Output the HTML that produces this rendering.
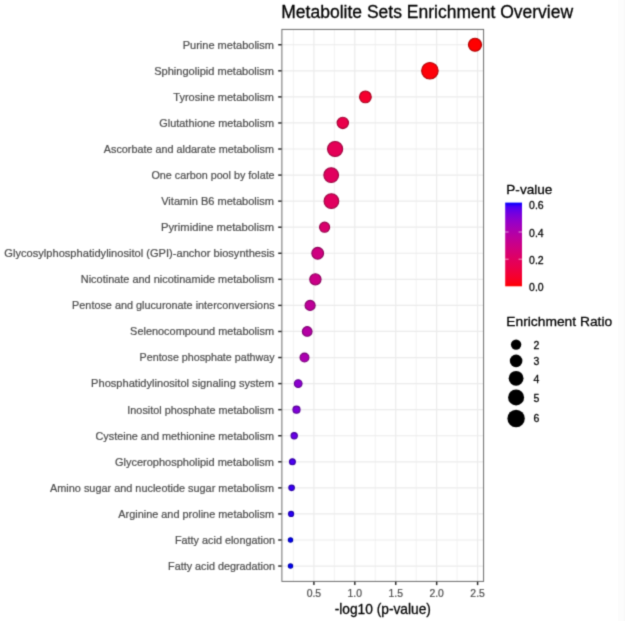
<!DOCTYPE html><html><head><meta charset="utf-8"><style>html,body{margin:0;padding:0;background:#fff}svg{display:block}text{font-family:"Liberation Sans",sans-serif;stroke-linejoin:round}.k{fill:#000;stroke:#000;stroke-width:.28}.g{fill:#4d4d4d;stroke:#4d4d4d;stroke-width:.22}</style></head><body>
<svg width="625" height="621" viewBox="0 0 625 621">
<defs><filter id="bl" x="0" y="0" width="625" height="621" filterUnits="userSpaceOnUse" color-interpolation-filters="sRGB"><feConvolveMatrix order="3" kernelMatrix="0.0256 0.1088 0.0256 0.1088 0.4624 0.1088 0.0256 0.1088 0.0256" divisor="1" edgeMode="duplicate" preserveAlpha="false"/></filter></defs>
<g filter="url(#bl)">
<rect width="625" height="621" fill="#ffffff"/>
<rect x="618" y="0" width="7" height="621" fill="#fcfcfc"/><rect x="624" y="0" width="1" height="621" fill="#f8f8f8"/>
<line x1="293.44" x2="293.44" y1="29.40" y2="581.40" stroke="#ebebeb" stroke-width="0.6"/>
<line x1="313.90" x2="313.90" y1="29.40" y2="581.40" stroke="#ebebeb" stroke-width="1.2"/>
<line x1="334.36" x2="334.36" y1="29.40" y2="581.40" stroke="#ebebeb" stroke-width="0.6"/>
<line x1="354.82" x2="354.82" y1="29.40" y2="581.40" stroke="#ebebeb" stroke-width="1.2"/>
<line x1="375.29" x2="375.29" y1="29.40" y2="581.40" stroke="#ebebeb" stroke-width="0.6"/>
<line x1="395.75" x2="395.75" y1="29.40" y2="581.40" stroke="#ebebeb" stroke-width="1.2"/>
<line x1="416.21" x2="416.21" y1="29.40" y2="581.40" stroke="#ebebeb" stroke-width="0.6"/>
<line x1="436.67" x2="436.67" y1="29.40" y2="581.40" stroke="#ebebeb" stroke-width="1.2"/>
<line x1="457.14" x2="457.14" y1="29.40" y2="581.40" stroke="#ebebeb" stroke-width="0.6"/>
<line x1="477.60" x2="477.60" y1="29.40" y2="581.40" stroke="#ebebeb" stroke-width="1.2"/>
<line x1="281.90" x2="483.60" y1="44.75" y2="44.75" stroke="#ebebeb" stroke-width="1.2"/>
<line x1="281.90" x2="483.60" y1="70.81" y2="70.81" stroke="#ebebeb" stroke-width="1.2"/>
<line x1="281.90" x2="483.60" y1="96.88" y2="96.88" stroke="#ebebeb" stroke-width="1.2"/>
<line x1="281.90" x2="483.60" y1="122.95" y2="122.95" stroke="#ebebeb" stroke-width="1.2"/>
<line x1="281.90" x2="483.60" y1="149.01" y2="149.01" stroke="#ebebeb" stroke-width="1.2"/>
<line x1="281.90" x2="483.60" y1="175.08" y2="175.08" stroke="#ebebeb" stroke-width="1.2"/>
<line x1="281.90" x2="483.60" y1="201.14" y2="201.14" stroke="#ebebeb" stroke-width="1.2"/>
<line x1="281.90" x2="483.60" y1="227.21" y2="227.21" stroke="#ebebeb" stroke-width="1.2"/>
<line x1="281.90" x2="483.60" y1="253.27" y2="253.27" stroke="#ebebeb" stroke-width="1.2"/>
<line x1="281.90" x2="483.60" y1="279.34" y2="279.34" stroke="#ebebeb" stroke-width="1.2"/>
<line x1="281.90" x2="483.60" y1="305.40" y2="305.40" stroke="#ebebeb" stroke-width="1.2"/>
<line x1="281.90" x2="483.60" y1="331.47" y2="331.47" stroke="#ebebeb" stroke-width="1.2"/>
<line x1="281.90" x2="483.60" y1="357.53" y2="357.53" stroke="#ebebeb" stroke-width="1.2"/>
<line x1="281.90" x2="483.60" y1="383.60" y2="383.60" stroke="#ebebeb" stroke-width="1.2"/>
<line x1="281.90" x2="483.60" y1="409.66" y2="409.66" stroke="#ebebeb" stroke-width="1.2"/>
<line x1="281.90" x2="483.60" y1="435.73" y2="435.73" stroke="#ebebeb" stroke-width="1.2"/>
<line x1="281.90" x2="483.60" y1="461.79" y2="461.79" stroke="#ebebeb" stroke-width="1.2"/>
<line x1="281.90" x2="483.60" y1="487.86" y2="487.86" stroke="#ebebeb" stroke-width="1.2"/>
<line x1="281.90" x2="483.60" y1="513.92" y2="513.92" stroke="#ebebeb" stroke-width="1.2"/>
<line x1="281.90" x2="483.60" y1="539.99" y2="539.99" stroke="#ebebeb" stroke-width="1.2"/>
<line x1="281.90" x2="483.60" y1="566.05" y2="566.05" stroke="#ebebeb" stroke-width="1.2"/>
<circle cx="475.0" cy="44.75" r="6.55" fill="#ff0000" stroke="#ad0000" stroke-width="1.1"/>
<circle cx="429.9" cy="70.81" r="8.25" fill="#fe0009" stroke="#ac0006" stroke-width="1.1"/>
<circle cx="365.4" cy="96.88" r="5.85" fill="#f5002f" stroke="#a6001f" stroke-width="1.1"/>
<circle cx="342.8" cy="122.95" r="5.65" fill="#ea004a" stroke="#9f0032" stroke-width="1.1"/>
<circle cx="335.1" cy="149.01" r="7.55" fill="#e50057" stroke="#9b003b" stroke-width="1.1"/>
<circle cx="331.2" cy="175.08" r="7.35" fill="#e1005e" stroke="#99003f" stroke-width="1.1"/>
<circle cx="331.4" cy="201.14" r="7.35" fill="#e1005e" stroke="#99003f" stroke-width="1.1"/>
<circle cx="324.6" cy="227.21" r="5.05" fill="#d9006d" stroke="#93004a" stroke-width="1.1"/>
<circle cx="317.7" cy="253.27" r="5.85" fill="#cf0080" stroke="#8c0057" stroke-width="1.1"/>
<circle cx="315.4" cy="279.34" r="5.65" fill="#ca0087" stroke="#89005b" stroke-width="1.1"/>
<circle cx="310.1" cy="305.40" r="5.05" fill="#be0099" stroke="#810068" stroke-width="1.1"/>
<circle cx="307.2" cy="331.47" r="4.85" fill="#b500a5" stroke="#7b0070" stroke-width="1.1"/>
<circle cx="304.5" cy="357.53" r="4.45" fill="#ac00b0" stroke="#740077" stroke-width="1.1"/>
<circle cx="298.2" cy="383.60" r="3.85" fill="#8b00cf" stroke="#5e008c" stroke-width="1.1"/>
<circle cx="296.5" cy="409.66" r="3.55" fill="#7f00d9" stroke="#560093" stroke-width="1.1"/>
<circle cx="294.2" cy="435.73" r="3.15" fill="#6800e7" stroke="#46009d" stroke-width="1.1"/>
<circle cx="292.4" cy="461.79" r="2.95" fill="#4d00f2" stroke="#3400a4" stroke-width="1.1"/>
<circle cx="291.6" cy="487.86" r="2.75" fill="#3b00f7" stroke="#2800a7" stroke-width="1.1"/>
<circle cx="291.1" cy="513.92" r="2.55" fill="#2b00fb" stroke="#1d00aa" stroke-width="1.1"/>
<circle cx="290.5" cy="539.99" r="2.15" fill="#0000ff" stroke="#0000ad" stroke-width="1.1"/>
<circle cx="290.5" cy="566.05" r="2.15" fill="#0000ff" stroke="#0000ad" stroke-width="1.1"/>
<rect x="281.90" y="29.40" width="201.70" height="552.00" fill="none" stroke="#666666" stroke-width="0.95"/>
<line x1="278.20" x2="281.60" y1="44.75" y2="44.75" stroke="#262626" stroke-width="1.45"/>
<text x="182.70" y="48.60" textLength="91.30" lengthAdjust="spacingAndGlyphs" font-size="11" class="g">Purine metabolism</text>
<line x1="278.20" x2="281.60" y1="70.81" y2="70.81" stroke="#262626" stroke-width="1.45"/>
<text x="154.20" y="74.66" textLength="119.80" lengthAdjust="spacingAndGlyphs" font-size="11" class="g">Sphingolipid metabolism</text>
<line x1="278.20" x2="281.60" y1="96.88" y2="96.88" stroke="#262626" stroke-width="1.45"/>
<text x="173.30" y="100.73" textLength="100.70" lengthAdjust="spacingAndGlyphs" font-size="11" class="g">Tyrosine metabolism</text>
<line x1="278.20" x2="281.60" y1="122.95" y2="122.95" stroke="#262626" stroke-width="1.45"/>
<text x="159.25" y="126.80" textLength="114.75" lengthAdjust="spacingAndGlyphs" font-size="11" class="g">Glutathione metabolism</text>
<line x1="278.20" x2="281.60" y1="149.01" y2="149.01" stroke="#262626" stroke-width="1.45"/>
<text x="103.80" y="152.86" textLength="170.20" lengthAdjust="spacingAndGlyphs" font-size="11" class="g">Ascorbate and aldarate metabolism</text>
<line x1="278.20" x2="281.60" y1="175.08" y2="175.08" stroke="#262626" stroke-width="1.45"/>
<text x="151.50" y="178.93" textLength="123.10" lengthAdjust="spacingAndGlyphs" font-size="11" class="g">One carbon pool by folate</text>
<line x1="278.20" x2="281.60" y1="201.14" y2="201.14" stroke="#262626" stroke-width="1.45"/>
<text x="161.20" y="204.99" textLength="112.80" lengthAdjust="spacingAndGlyphs" font-size="11" class="g">Vitamin B6 metabolism</text>
<line x1="278.20" x2="281.60" y1="227.21" y2="227.21" stroke="#262626" stroke-width="1.45"/>
<text x="161.00" y="231.06" textLength="113.00" lengthAdjust="spacingAndGlyphs" font-size="11" class="g">Pyrimidine metabolism</text>
<line x1="278.20" x2="281.60" y1="253.27" y2="253.27" stroke="#262626" stroke-width="1.45"/>
<text x="4.35" y="257.12" textLength="270.25" lengthAdjust="spacingAndGlyphs" font-size="11" class="g">Glycosylphosphatidylinositol (GPI)-anchor biosynthesis</text>
<line x1="278.20" x2="281.60" y1="279.34" y2="279.34" stroke="#262626" stroke-width="1.45"/>
<text x="80.80" y="283.19" textLength="193.20" lengthAdjust="spacingAndGlyphs" font-size="11" class="g">Nicotinate and nicotinamide metabolism</text>
<line x1="278.20" x2="281.60" y1="305.40" y2="305.40" stroke="#262626" stroke-width="1.45"/>
<text x="72.10" y="309.25" textLength="202.50" lengthAdjust="spacingAndGlyphs" font-size="11" class="g">Pentose and glucuronate interconversions</text>
<line x1="278.20" x2="281.60" y1="331.47" y2="331.47" stroke="#262626" stroke-width="1.45"/>
<text x="130.10" y="335.32" textLength="143.90" lengthAdjust="spacingAndGlyphs" font-size="11" class="g">Selenocompound metabolism</text>
<line x1="278.20" x2="281.60" y1="357.53" y2="357.53" stroke="#262626" stroke-width="1.45"/>
<text x="139.60" y="361.38" textLength="135.00" lengthAdjust="spacingAndGlyphs" font-size="11" class="g">Pentose phosphate pathway</text>
<line x1="278.20" x2="281.60" y1="383.60" y2="383.60" stroke="#262626" stroke-width="1.45"/>
<text x="91.10" y="387.45" textLength="182.90" lengthAdjust="spacingAndGlyphs" font-size="11" class="g">Phosphatidylinositol signaling system</text>
<line x1="278.20" x2="281.60" y1="409.66" y2="409.66" stroke="#262626" stroke-width="1.45"/>
<text x="127.30" y="413.51" textLength="146.70" lengthAdjust="spacingAndGlyphs" font-size="11" class="g">Inositol phosphate metabolism</text>
<line x1="278.20" x2="281.60" y1="435.73" y2="435.73" stroke="#262626" stroke-width="1.45"/>
<text x="95.40" y="439.58" textLength="178.60" lengthAdjust="spacingAndGlyphs" font-size="11" class="g">Cysteine and methionine metabolism</text>
<line x1="278.20" x2="281.60" y1="461.79" y2="461.79" stroke="#262626" stroke-width="1.45"/>
<text x="114.90" y="465.64" textLength="159.10" lengthAdjust="spacingAndGlyphs" font-size="11" class="g">Glycerophospholipid metabolism</text>
<line x1="278.20" x2="281.60" y1="487.86" y2="487.86" stroke="#262626" stroke-width="1.45"/>
<text x="50.00" y="491.71" textLength="224.00" lengthAdjust="spacingAndGlyphs" font-size="11" class="g">Amino sugar and nucleotide sugar metabolism</text>
<line x1="278.20" x2="281.60" y1="513.92" y2="513.92" stroke="#262626" stroke-width="1.45"/>
<text x="118.30" y="517.77" textLength="155.70" lengthAdjust="spacingAndGlyphs" font-size="11" class="g">Arginine and proline metabolism</text>
<line x1="278.20" x2="281.60" y1="539.99" y2="539.99" stroke="#262626" stroke-width="1.45"/>
<text x="174.90" y="543.84" textLength="100.10" lengthAdjust="spacingAndGlyphs" font-size="11" class="g">Fatty acid elongation</text>
<line x1="278.20" x2="281.60" y1="566.05" y2="566.05" stroke="#262626" stroke-width="1.45"/>
<text x="168.10" y="569.90" textLength="106.90" lengthAdjust="spacingAndGlyphs" font-size="11" class="g">Fatty acid degradation</text>
<line x1="313.90" x2="313.90" y1="581.70" y2="585.10" stroke="#262626" stroke-width="1.45"/>
<text x="313.90" y="596.6" text-anchor="middle" font-size="10.4" class="g">0.5</text>
<line x1="354.82" x2="354.82" y1="581.70" y2="585.10" stroke="#262626" stroke-width="1.45"/>
<text x="354.82" y="596.6" text-anchor="middle" font-size="10.4" class="g">1.0</text>
<line x1="395.75" x2="395.75" y1="581.70" y2="585.10" stroke="#262626" stroke-width="1.45"/>
<text x="395.75" y="596.6" text-anchor="middle" font-size="10.4" class="g">1.5</text>
<line x1="436.67" x2="436.67" y1="581.70" y2="585.10" stroke="#262626" stroke-width="1.45"/>
<text x="436.67" y="596.6" text-anchor="middle" font-size="10.4" class="g">2.0</text>
<line x1="477.60" x2="477.60" y1="581.70" y2="585.10" stroke="#262626" stroke-width="1.45"/>
<text x="477.60" y="596.6" text-anchor="middle" font-size="10.4" class="g">2.5</text>
<text x="382.8" y="614" text-anchor="middle" font-size="13.75" class="k">-log10 (p-value)</text>
<text x="281.3" y="17.6" font-size="17.5" class="k">Metabolite Sets Enrichment Overview</text>
<defs><linearGradient id="g" x1="0" y1="1" x2="0" y2="0">
<stop offset="0.00" stop-color="#ff0000"/>
<stop offset="0.05" stop-color="#fb001a"/>
<stop offset="0.10" stop-color="#f6002a"/>
<stop offset="0.15" stop-color="#f20037"/>
<stop offset="0.20" stop-color="#ed0044"/>
<stop offset="0.25" stop-color="#e80050"/>
<stop offset="0.30" stop-color="#e3005b"/>
<stop offset="0.35" stop-color="#dd0066"/>
<stop offset="0.40" stop-color="#d70072"/>
<stop offset="0.45" stop-color="#d1007d"/>
<stop offset="0.50" stop-color="#ca0088"/>
<stop offset="0.55" stop-color="#c20094"/>
<stop offset="0.60" stop-color="#ba009f"/>
<stop offset="0.65" stop-color="#b000ab"/>
<stop offset="0.70" stop-color="#a600b7"/>
<stop offset="0.75" stop-color="#9a00c3"/>
<stop offset="0.80" stop-color="#8d00ce"/>
<stop offset="0.85" stop-color="#7c00da"/>
<stop offset="0.90" stop-color="#6800e7"/>
<stop offset="0.95" stop-color="#4b00f3"/>
<stop offset="1.00" stop-color="#0000ff"/>
</linearGradient></defs>
<text x="506.3" y="193.6" font-size="13.6" class="k">P-value</text>
<rect x="505.2" y="202.6" width="16.8" height="83.7" fill="url(#g)"/>
<text x="529.1" y="208.5" font-size="10.5" class="k">0.6</text>
<text x="529.1" y="236.7" font-size="10.5" class="k">0.4</text>
<line x1="505.2" x2="508.6" y1="232.0" y2="232.0" stroke="#fff" stroke-width="0.6"/>
<line x1="518.6" x2="522.0" y1="232.0" y2="232.0" stroke="#fff" stroke-width="0.6"/>
<text x="529.1" y="263.9" font-size="10.5" class="k">0.2</text>
<line x1="505.2" x2="508.6" y1="259.2" y2="259.2" stroke="#fff" stroke-width="0.6"/>
<line x1="518.6" x2="522.0" y1="259.2" y2="259.2" stroke="#fff" stroke-width="0.6"/>
<text x="529.1" y="291.1" font-size="10.5" class="k">0.0</text>
<text x="506.3" y="326.4" font-size="13.7" textLength="105.9" lengthAdjust="spacingAndGlyphs" class="k">Enrichment Ratio</text>
<circle cx="516.1" cy="344.6" r="5.2" fill="#000"/>
<text x="533.5" y="348.9" font-size="10.5" class="k">2</text>
<circle cx="516.1" cy="360.9" r="6.3" fill="#000"/>
<text x="533.5" y="365.2" font-size="10.5" class="k">3</text>
<circle cx="516.1" cy="378.3" r="7.4" fill="#000"/>
<text x="533.5" y="382.5" font-size="10.5" class="k">4</text>
<circle cx="516.1" cy="397.4" r="8.0" fill="#000"/>
<text x="533.5" y="401.7" font-size="10.5" class="k">5</text>
<circle cx="516.1" cy="418.5" r="8.7" fill="#000"/>
<text x="533.5" y="422.1" font-size="10.5" class="k">6</text>
</g></svg></body></html>
